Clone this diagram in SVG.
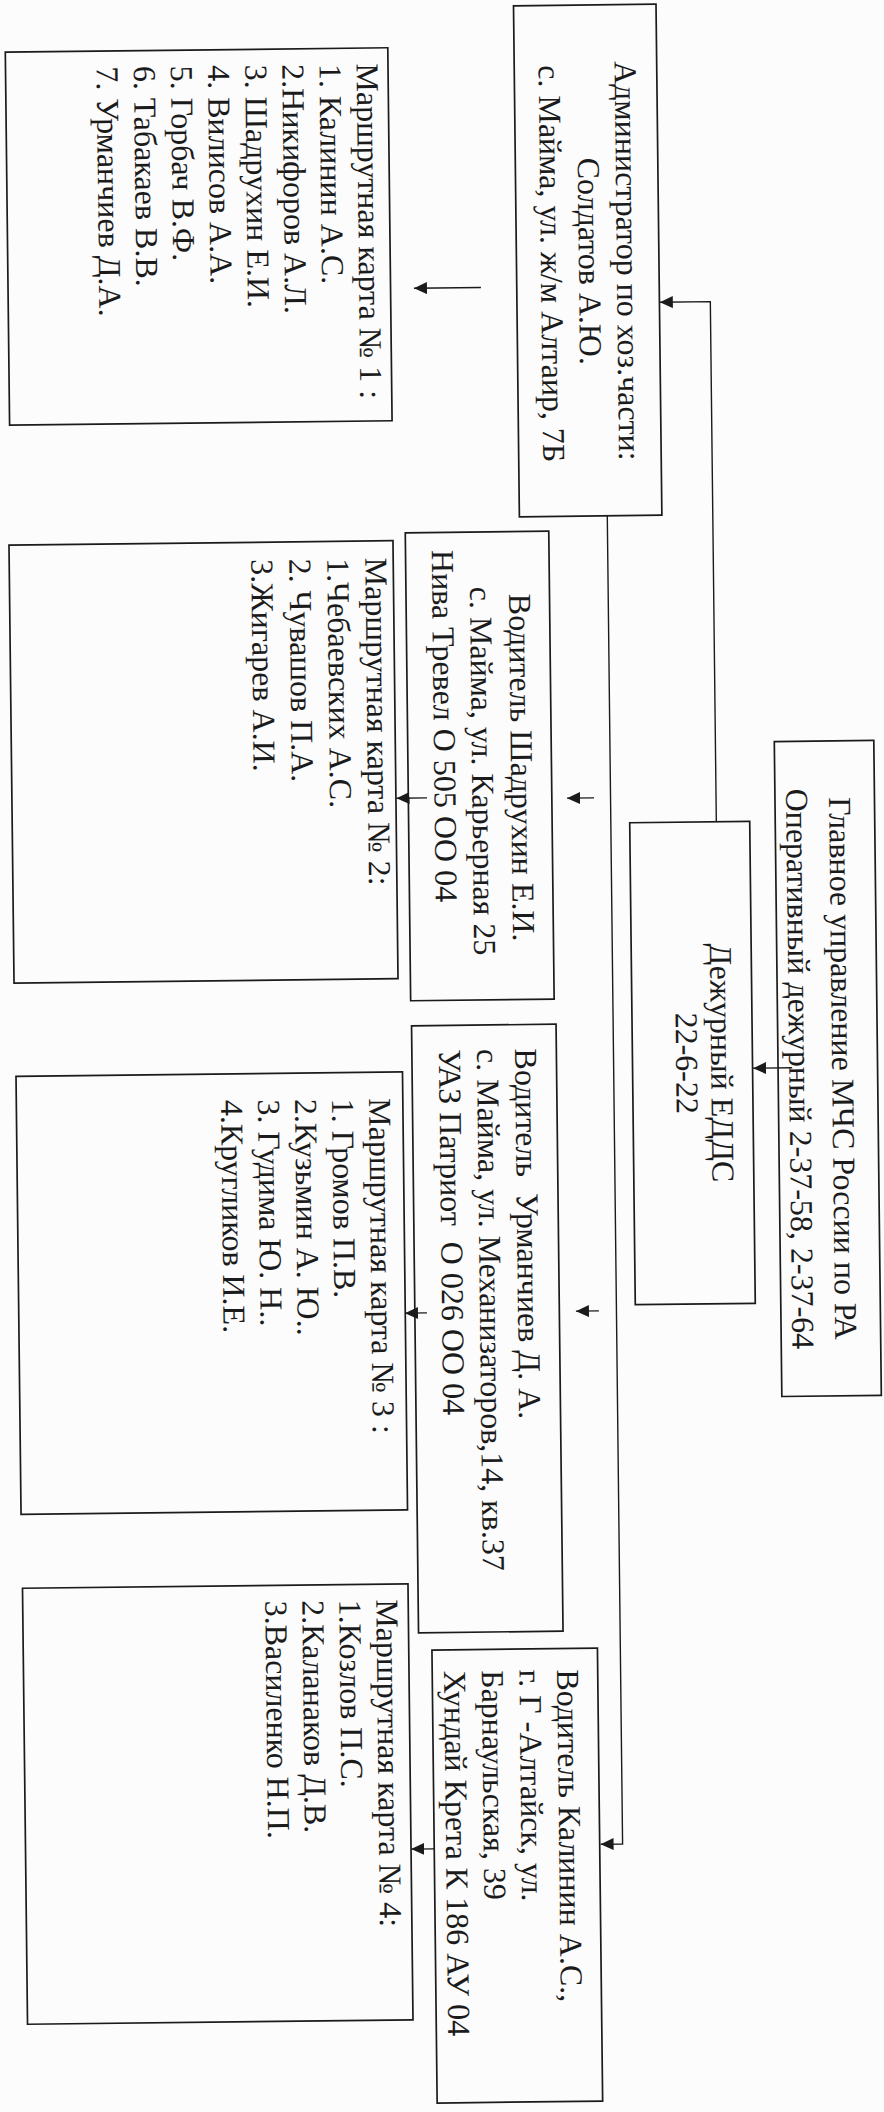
<svg xmlns="http://www.w3.org/2000/svg" width="884" height="2112" viewBox="0 0 884 2112">
<defs>
<style>
.box{fill:none;stroke:#1b1b1b;stroke-width:1.7}
.ln{fill:none;stroke:#1b1b1b;stroke-width:1.4}
.arr{marker-end:url(#ah)}
text{font-family:"Liberation Serif","Times New Roman",serif;font-size:32px;fill:#1b1b1b}
.m{text-anchor:middle}
</style>
<marker id="ah" markerUnits="userSpaceOnUse" markerWidth="14" markerHeight="13" refX="13" refY="6" orient="auto"><path d="M0,0 L13,6 L0,12 z" fill="#1b1b1b"/></marker>
</defs>
<rect width="884" height="2112" fill="#fcfcfc"/>
<g transform="rotate(-0.66 442 1056)">

<g id="connectors">
<polyline class="ln arr" points="719,825 719,304.8 668.5,304.8"/>
<polyline class="ln arr" points="613.5,517.7 613.5,1846 591.5,1846"/>
<line class="ln arr" x1="792" y1="1071.8" x2="753" y2="1071.8"/>
<line class="ln arr" x1="489.8" y1="288" x2="422.8" y2="288"/>
<line class="ln arr" x1="597" y1="799.6" x2="570" y2="799.6"/>
<line class="ln arr" x1="430" y1="797.7" x2="399.5" y2="797.7"/>
<line class="ln arr" x1="596" y1="1312.7" x2="573" y2="1312.7"/>
<line class="ln arr" x1="424" y1="1312.7" x2="402" y2="1312.7"/>
<line class="ln arr" x1="425" y1="1848.7" x2="402" y2="1848.7"/>
</g>

<g id="n-admin">
<rect class="box" x="525.6" y="6.7" width="142.5" height="511"/>
<text class="m" transform="translate(626 263) rotate(90)">Администратор по хоз.части:</text>
<text class="m" transform="translate(588 263) rotate(90)">Солдатов А.Ю.</text>
<text class="m" transform="translate(550 265) rotate(90)">с. Майма, ул. ж/м Алтаир, 7Б</text>
</g>

<g id="n-card1">
<rect class="box" x="16.9" y="47.2" width="382.5" height="373"/>
<text transform="translate(368 62.6) rotate(90)">Маршрутная карта № 1 :</text>
<text transform="translate(330.9 62.6) rotate(90)">1. Калинин А.С.</text>
<text transform="translate(293.7 62.6) rotate(90)">2.Никифоров А.Л.</text>
<text transform="translate(256.6 62.6) rotate(90)">3. Шадрухин Е.И.</text>
<text transform="translate(219.4 62.6) rotate(90)">4. Вилисов А.А.</text>
<text transform="translate(182.3 62.6) rotate(90)">5. Горбач В.Ф.</text>
<text transform="translate(145.2 62.6) rotate(90)">6. Табакаев В.В.</text>
<text transform="translate(108 62.6) rotate(90)">7. Урманчиев Д.А.</text>
</g>

<g id="n-shadrukhin">
<rect class="box" x="411.3" y="532.4" width="143.5" height="468"/>
<text class="m" transform="translate(514.3 768.5) rotate(90)">Водитель Шадрухин Е.И.</text>
<text class="m" transform="translate(475.3 771.5) rotate(90)">с. Майма, ул. Карьерная 25</text>
<text transform="translate(437.5 550) rotate(90)">Нива Тревел О 505 ОО 04</text>
</g>

<g id="n-card2">
<rect class="box" x="14.9" y="540.2" width="384" height="438"/>
<text transform="translate(371 557) rotate(90)">Маршрутная карта № 2:</text>
<text transform="translate(333 557) rotate(90)">1.Чебаевских А.С.</text>
<text transform="translate(295 557) rotate(90)">2. Чувашов П.А.</text>
<text transform="translate(257 557) rotate(90)">3.Жигарев А.И.</text>
</g>

<g id="n-glavnoe">
<rect class="box" x="777.9" y="745.4" width="99.5" height="655"/>
<text class="m" transform="translate(832 1073) rotate(90)">Главное управление МЧС России по РА</text>
<text class="m" transform="translate(789 1073) rotate(90)">Оперативный дежурный 2-37-58, 2-37-64</text>
</g>

<g id="n-dezhurny">
<rect class="box" x="632.4" y="824.9" width="120" height="482"/>
<text class="m" transform="translate(711 1066) rotate(90)">Дежурный ЕДДС</text>
<text class="m" transform="translate(676 1066) rotate(90)">22-6-22</text>
</g>

<g id="n-urmanchiev">
<rect class="box" x="411.9" y="1025.5" width="144.5" height="607"/>
<text transform="translate(515 1049.4) rotate(90)">Водитель&#160; Урманчиев Д. А.</text>
<text transform="translate(477 1049.4) rotate(90)">с. Майма, ул. Механизаторов,14, кв.37</text>
<text transform="translate(439 1049.4) rotate(90)">УАЗ Патриот&#160; О 026 ОО 04</text>
</g>

<g id="n-card3">
<rect class="box" x="15.8" y="1071.5" width="386.5" height="438"/>
<text transform="translate(368.5 1097.4) rotate(90)">Маршрутная карта № 3 :</text>
<text transform="translate(331.5 1097.4) rotate(90)">1. Громов П.В.</text>
<text transform="translate(294.5 1097.4) rotate(90)">2.Кузьмин А. Ю..</text>
<text transform="translate(257.5 1097.4) rotate(90)">3. Гудима Ю. Н..</text>
<text transform="translate(220.5 1097.4) rotate(90)">4.Кругликов И.Е.</text>
</g>

<g id="n-kalinin">
<rect class="box" x="425.1" y="1649.9" width="165.5" height="453"/>
<text transform="translate(550 1670.7) rotate(90)">Водитель Калинин А.С.,</text>
<text transform="translate(512.3 1670.7) rotate(90)">г. Г -Алтайск, ул.</text>
<text transform="translate(474.6 1670.7) rotate(90)">Барнаульская, 39</text>
<text transform="translate(437 1670.7) rotate(90)">Хундай Крета К 186 АУ 04</text>
</g>

<g id="n-card4">
<rect class="box" x="16.4" y="1583.4" width="385.5" height="436"/>
<text transform="translate(370 1598.6) rotate(90)">Маршрутная карта № 4:</text>
<text transform="translate(333 1598.6) rotate(90)">1.Козлов П.С.</text>
<text transform="translate(296 1598.6) rotate(90)">2.Каланаков Д.В.</text>
<text transform="translate(259 1598.6) rotate(90)">3.Василенко Н.П.</text>
</g>

</g>
</svg>
